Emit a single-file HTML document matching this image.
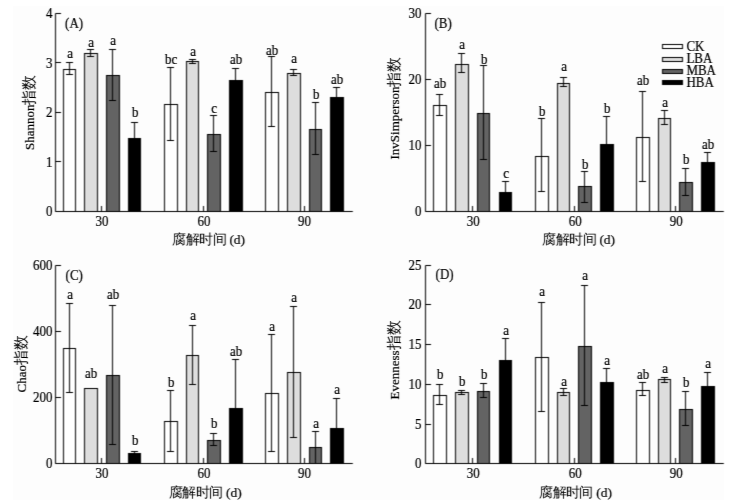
<!DOCTYPE html><html><head><meta charset="utf-8"><style>html,body{margin:0;padding:0;background:#fff;width:745px;height:503px;overflow:hidden}svg{display:block}text{font-family:"Liberation Serif", serif;fill:#000;stroke:#000;stroke-width:0.2px}</style></head><body>
<svg width="745" height="503" viewBox="0 0 745 503">
<defs><filter id="bs" x="0" y="0" width="1" height="1" color-interpolation-filters="sRGB"><feConvolveMatrix order="3" kernelMatrix="0.02 0.06 0.02 0.16 0.48 0.16 0.02 0.06 0.02" divisor="1" preserveAlpha="false" edgeMode="duplicate"/></filter><filter id="bt" x="0" y="0" width="1" height="1" color-interpolation-filters="sRGB"><feConvolveMatrix order="3" kernelMatrix="0 0 0 0.12 0.76 0.12 0 0 0" divisor="1" preserveAlpha="false" edgeMode="duplicate"/></filter></defs>
<rect width="745" height="503" fill="#fff"/><rect x="13" y="6" width="711" height="494" fill="#fdfdfd"/>
<g filter="url(#bs)"><rect width="745" height="503" fill="none"/><g stroke="#000" stroke-width="1" fill="none"><rect x="63.5" y="69.5" width="12" height="142" fill="#ffffff"/><path d="M69.5 62.5V74.5M66 62.5H73M66 74.5H73"/><rect x="84.5" y="53.5" width="13" height="158" fill="#dddddd"/><path d="M90.5 49.5V56.5M87 49.5H94M87 56.5H94"/><rect x="106.5" y="75.5" width="13" height="136" fill="#636363"/><path d="M112.5 49.5V100.5M109 49.5H116M109 100.5H116"/><rect x="128.5" y="138.5" width="12" height="73" fill="#000000"/><path d="M134.5 122.5V154.5M131 122.5H138M131 154.5H138"/><rect x="164.5" y="104.5" width="13" height="107" fill="#ffffff"/><path d="M170.5 67.5V140.5M167 67.5H174M167 140.5H174"/><rect x="186.5" y="61.5" width="12" height="150" fill="#dddddd"/><path d="M192.5 59.5V63.5M189 59.5H196M189 63.5H196"/><rect x="207.5" y="134.5" width="13" height="77" fill="#636363"/><path d="M213.5 115.5V151.5M210 115.5H217M210 151.5H217"/><rect x="229.5" y="80.5" width="13" height="131" fill="#000000"/><path d="M235.5 68.5V93.5M232 68.5H239M232 93.5H239"/><rect x="265.5" y="92.5" width="13" height="119" fill="#ffffff"/><path d="M271.5 56.5V126.5M268 56.5H275M268 126.5H275"/><rect x="287.5" y="73.5" width="13" height="138" fill="#dddddd"/><path d="M293.5 69.5V75.5M290 69.5H297M290 75.5H297"/><rect x="309.5" y="129.5" width="12" height="82" fill="#636363"/><path d="M315.5 102.5V154.5M312 102.5H319M312 154.5H319"/><rect x="330.5" y="97.5" width="13" height="114" fill="#000000"/><path d="M336.5 87.5V107.5M333 87.5H340M333 107.5H340"/><path d="M55.5 13.5V211.5H352.8"/><path d="M55.5 211.5H61"/><path d="M55.5 161.5H61"/><path d="M55.5 112.5H61"/><path d="M55.5 62.5H61"/><path d="M55.5 13.5H61"/><path d="M101.5 211.5V206"/><path d="M203.5 211.5V206"/><path d="M304.5 211.5V206"/><rect x="433.5" y="105.5" width="13" height="106" fill="#ffffff"/><path d="M439.5 94.5V115.5M436 94.5H443M436 115.5H443"/><rect x="455.5" y="64.5" width="13" height="147" fill="#dddddd"/><path d="M461.5 53.5V72.5M458 53.5H465M458 72.5H465"/><rect x="477.5" y="113.5" width="12" height="98" fill="#636363"/><path d="M483.5 65.5V159.5M480 65.5H487M480 159.5H487"/><rect x="499.5" y="192.5" width="12" height="19" fill="#000000"/><path d="M505.5 181.5V203.5M502 181.5H509M502 203.5H509"/><rect x="535.5" y="156.5" width="13" height="55" fill="#ffffff"/><path d="M541.5 118.5V191.5M538 118.5H545M538 191.5H545"/><rect x="557.5" y="83.5" width="12" height="128" fill="#dddddd"/><path d="M563.5 77.5V86.5M560 77.5H567M560 86.5H567"/><rect x="578.5" y="186.5" width="13" height="25" fill="#636363"/><path d="M584.5 171.5V202.5M581 171.5H588M581 202.5H588"/><rect x="600.5" y="144.5" width="13" height="67" fill="#000000"/><path d="M606.5 116.5V172.5M603 116.5H610M603 172.5H610"/><rect x="636.5" y="137.5" width="13" height="74" fill="#ffffff"/><path d="M642.5 91.5V181.5M639 91.5H646M639 181.5H646"/><rect x="658.5" y="118.5" width="12" height="93" fill="#dddddd"/><path d="M664.5 110.5V124.5M661 110.5H668M661 124.5H668"/><rect x="679.5" y="182.5" width="13" height="29" fill="#636363"/><path d="M685.5 168.5V195.5M682 168.5H689M682 195.5H689"/><rect x="701.5" y="162.5" width="13" height="49" fill="#000000"/><path d="M707.5 152.5V171.5M704 152.5H711M704 171.5H711"/><path d="M425.5 13.5V211.5H723.8"/><path d="M425.5 211.5H431"/><path d="M425.5 145.5H431"/><path d="M425.5 79.5H431"/><path d="M425.5 13.5H431"/><path d="M472.5 211.5V206"/><path d="M574.5 211.5V206"/><path d="M675.5 211.5V206"/><rect x="63.5" y="348.5" width="12" height="115" fill="#ffffff"/><path d="M69.5 303.5V392.5M66 303.5H73M66 392.5H73"/><rect x="84.5" y="388.5" width="13" height="75" fill="#dddddd"/><rect x="106.5" y="375.5" width="13" height="88" fill="#636363"/><path d="M112.5 305.5V444.5M109 305.5H116M109 444.5H116"/><rect x="128.5" y="453.5" width="12" height="10" fill="#000000"/><path d="M134.5 451.5V455.5M131 451.5H138M131 455.5H138"/><rect x="164.5" y="421.5" width="13" height="42" fill="#ffffff"/><path d="M170.5 390.5V451.5M167 390.5H174M167 451.5H174"/><rect x="186.5" y="355.5" width="12" height="108" fill="#dddddd"/><path d="M192.5 325.5V384.5M189 325.5H196M189 384.5H196"/><rect x="207.5" y="440.5" width="13" height="23" fill="#636363"/><path d="M213.5 433.5V445.5M210 433.5H217M210 445.5H217"/><rect x="229.5" y="408.5" width="13" height="55" fill="#000000"/><path d="M235.5 359.5V456.5M232 359.5H239M232 456.5H239"/><rect x="265.5" y="393.5" width="13" height="70" fill="#ffffff"/><path d="M271.5 334.5V451.5M268 334.5H275M268 451.5H275"/><rect x="287.5" y="372.5" width="13" height="91" fill="#dddddd"/><path d="M293.5 306.5V437.5M290 306.5H297M290 437.5H297"/><rect x="309.5" y="447.5" width="12" height="16" fill="#636363"/><path d="M315.5 431.5V463.5M312 431.5H319M312 463.5H319"/><rect x="330.5" y="428.5" width="13" height="35" fill="#000000"/><path d="M336.5 398.5V459.5M333 398.5H340M333 459.5H340"/><path d="M55.5 265.5V463.5H352.8"/><path d="M55.5 463.5H61"/><path d="M55.5 397.5H61"/><path d="M55.5 331.5H61"/><path d="M55.5 265.5H61"/><path d="M101.5 463.5V458"/><path d="M203.5 463.5V458"/><path d="M304.5 463.5V458"/><rect x="433.5" y="395.5" width="13" height="68" fill="#ffffff"/><path d="M439.5 384.5V404.5M436 384.5H443M436 404.5H443"/><rect x="455.5" y="392.5" width="13" height="71" fill="#dddddd"/><path d="M461.5 390.5V394.5M458 390.5H465M458 394.5H465"/><rect x="477.5" y="391.5" width="12" height="72" fill="#636363"/><path d="M483.5 383.5V397.5M480 383.5H487M480 397.5H487"/><rect x="499.5" y="360.5" width="12" height="103" fill="#000000"/><path d="M505.5 338.5V380.5M502 338.5H509M502 380.5H509"/><rect x="535.5" y="357.5" width="13" height="106" fill="#ffffff"/><path d="M541.5 302.5V411.5M538 302.5H545M538 411.5H545"/><rect x="557.5" y="392.5" width="12" height="71" fill="#dddddd"/><path d="M563.5 388.5V395.5M560 388.5H567M560 395.5H567"/><rect x="578.5" y="346.5" width="13" height="117" fill="#636363"/><path d="M584.5 285.5V405.5M581 285.5H588M581 405.5H588"/><rect x="600.5" y="382.5" width="13" height="81" fill="#000000"/><path d="M606.5 368.5V395.5M603 368.5H610M603 395.5H610"/><rect x="636.5" y="390.5" width="13" height="73" fill="#ffffff"/><path d="M642.5 382.5V395.5M639 382.5H646M639 395.5H646"/><rect x="658.5" y="379.5" width="12" height="84" fill="#dddddd"/><path d="M664.5 377.5V382.5M661 377.5H668M661 382.5H668"/><rect x="679.5" y="409.5" width="13" height="54" fill="#636363"/><path d="M685.5 391.5V425.5M682 391.5H689M682 425.5H689"/><rect x="701.5" y="386.5" width="13" height="77" fill="#000000"/><path d="M707.5 372.5V400.5M704 372.5H711M704 400.5H711"/><path d="M425.5 265.5V463.5H723.8"/><path d="M425.5 463.5H431"/><path d="M425.5 424.5H431"/><path d="M425.5 384.5H431"/><path d="M425.5 344.5H431"/><path d="M425.5 304.5H431"/><path d="M425.5 265.5H431"/><path d="M472.5 463.5V458"/><path d="M574.5 463.5V458"/><path d="M675.5 463.5V458"/><rect x="662.5" y="44.5" width="20" height="4" fill="#ffffff"/><rect x="662.5" y="57.5" width="20" height="4" fill="#dddddd"/><rect x="662.5" y="69.5" width="20" height="4" fill="#636363"/><rect x="662.5" y="80.5" width="20" height="4" fill="#000000"/></g></g>
<g filter="url(#bt)"><rect width="745" height="503" fill="none"/><text transform="translate(70.2 58.1) scale(1 1.05)" font-size="13" text-anchor="middle">a</text><text transform="translate(91.2 47.2) scale(1 1.05)" font-size="13" text-anchor="middle">a</text><text transform="translate(113.2 45.2) scale(1 1.05)" font-size="13" text-anchor="middle">a</text><text transform="translate(135.2 116.8) scale(1 1.05)" font-size="13" text-anchor="middle">b</text><text transform="translate(171.2 64) scale(1 1.05)" font-size="13" text-anchor="middle">bc</text><text transform="translate(193.2 56.1) scale(1 1.05)" font-size="13" text-anchor="middle">a</text><text transform="translate(214.2 112.7) scale(1 1.05)" font-size="13" text-anchor="middle">c</text><text transform="translate(236.2 64) scale(1 1.05)" font-size="13" text-anchor="middle">ab</text><text transform="translate(272.2 54.6) scale(1 1.05)" font-size="13" text-anchor="middle">ab</text><text transform="translate(294.2 63.1) scale(1 1.05)" font-size="13" text-anchor="middle">a</text><text transform="translate(316.2 98.9) scale(1 1.05)" font-size="13" text-anchor="middle">b</text><text transform="translate(337.2 84) scale(1 1.05)" font-size="13" text-anchor="middle">ab</text><text transform="translate(52.5 216.2) scale(1 1.05)" font-size="13" text-anchor="end">0</text><text transform="translate(52.5 166.8) scale(1 1.05)" font-size="13" text-anchor="end">1</text><text transform="translate(52.5 117.3) scale(1 1.05)" font-size="13" text-anchor="end">2</text><text transform="translate(52.5 67.9) scale(1 1.05)" font-size="13" text-anchor="end">3</text><text transform="translate(52.5 18.4) scale(1 1.05)" font-size="13" text-anchor="end">4</text><text transform="translate(101.9 225.9) scale(1 1.05)" font-size="13" text-anchor="middle">30</text><text transform="translate(203.9 225.9) scale(1 1.05)" font-size="13" text-anchor="middle">60</text><text transform="translate(304.4 225.9) scale(1 1.05)" font-size="13" text-anchor="middle">90</text><text x="172.2" y="244.2" font-size="14"><tspan letter-spacing="-0.55" stroke-width="0">腐解时间</tspan><tspan font-size="13.5"> (d)</tspan></text><text transform="translate(34.4 150) rotate(-90)" font-size="13">Shannon<tspan font-size="14.5" stroke-width="0">指数</tspan></text><text transform="translate(65.1 27.6) scale(1 1.05)" font-size="13">(A)</text><text transform="translate(440.2 87.9) scale(1 1.05)" font-size="13" text-anchor="middle">ab</text><text transform="translate(462.2 49) scale(1 1.05)" font-size="13" text-anchor="middle">a</text><text transform="translate(484.2 63.6) scale(1 1.05)" font-size="13" text-anchor="middle">b</text><text transform="translate(506.2 177.8) scale(1 1.05)" font-size="13" text-anchor="middle">c</text><text transform="translate(542.2 116.2) scale(1 1.05)" font-size="13" text-anchor="middle">b</text><text transform="translate(564.2 70.9) scale(1 1.05)" font-size="13" text-anchor="middle">a</text><text transform="translate(585.2 168.9) scale(1 1.05)" font-size="13" text-anchor="middle">b</text><text transform="translate(607.2 113.2) scale(1 1.05)" font-size="13" text-anchor="middle">b</text><text transform="translate(643.2 85) scale(1 1.05)" font-size="13" text-anchor="middle">ab</text><text transform="translate(665.2 107) scale(1 1.05)" font-size="13" text-anchor="middle">a</text><text transform="translate(686.2 164.1) scale(1 1.05)" font-size="13" text-anchor="middle">b</text><text transform="translate(708.2 149.2) scale(1 1.05)" font-size="13" text-anchor="middle">ab</text><text transform="translate(421.5 216.1) scale(1 1.05)" font-size="13" text-anchor="end">0</text><text transform="translate(421.5 150.2) scale(1 1.05)" font-size="13" text-anchor="end">10</text><text transform="translate(421.5 84.1) scale(1 1.05)" font-size="13" text-anchor="end">20</text><text transform="translate(421.5 18.3) scale(1 1.05)" font-size="13" text-anchor="end">30</text><text transform="translate(473.3 225.6) scale(1 1.05)" font-size="13" text-anchor="middle">30</text><text transform="translate(575.3 225.6) scale(1 1.05)" font-size="13" text-anchor="middle">60</text><text transform="translate(676.3 225.6) scale(1 1.05)" font-size="13" text-anchor="middle">90</text><text x="542.2" y="244.2" font-size="14"><tspan letter-spacing="-0.55" stroke-width="0">腐解时间</tspan><tspan font-size="13.5"> (d)</tspan></text><text transform="translate(398.5 159.5) rotate(-90)" font-size="13">InvSimperson<tspan font-size="14.5" stroke-width="0">指数</tspan></text><text transform="translate(434.5 27.6) scale(1 1.05)" font-size="13">(B)</text><text transform="translate(70.2 299) scale(1 1.05)" font-size="13" text-anchor="middle">a</text><text transform="translate(91.2 378) scale(1 1.05)" font-size="13" text-anchor="middle">ab</text><text transform="translate(113.2 299.2) scale(1 1.05)" font-size="13" text-anchor="middle">ab</text><text transform="translate(135.2 444.9) scale(1 1.05)" font-size="13" text-anchor="middle">b</text><text transform="translate(171.2 386.6) scale(1 1.05)" font-size="13" text-anchor="middle">b</text><text transform="translate(193.2 320.4) scale(1 1.05)" font-size="13" text-anchor="middle">a</text><text transform="translate(214.2 427.9) scale(1 1.05)" font-size="13" text-anchor="middle">b</text><text transform="translate(236.2 355.8) scale(1 1.05)" font-size="13" text-anchor="middle">ab</text><text transform="translate(272.2 331) scale(1 1.05)" font-size="13" text-anchor="middle">a</text><text transform="translate(294.2 302.2) scale(1 1.05)" font-size="13" text-anchor="middle">a</text><text transform="translate(316.2 428) scale(1 1.05)" font-size="13" text-anchor="middle">a</text><text transform="translate(337.2 394.2) scale(1 1.05)" font-size="13" text-anchor="middle">a</text><text transform="translate(52.5 468.2) scale(1 1.05)" font-size="13" text-anchor="end">0</text><text transform="translate(52.5 402.2) scale(1 1.05)" font-size="13" text-anchor="end">200</text><text transform="translate(52.5 336.2) scale(1 1.05)" font-size="13" text-anchor="end">400</text><text transform="translate(52.5 270.2) scale(1 1.05)" font-size="13" text-anchor="end">600</text><text transform="translate(101.9 477.6) scale(1 1.05)" font-size="13" text-anchor="middle">30</text><text transform="translate(203.9 477.6) scale(1 1.05)" font-size="13" text-anchor="middle">60</text><text transform="translate(304.4 477.6) scale(1 1.05)" font-size="13" text-anchor="middle">90</text><text x="168.8" y="496.7" font-size="14"><tspan letter-spacing="-0.55" stroke-width="0">腐解时间</tspan><tspan font-size="13.5"> (d)</tspan></text><text transform="translate(26 392.5) rotate(-90)" font-size="13">Chao<tspan font-size="14.5" stroke-width="0">指数</tspan></text><text transform="translate(65.6 279.5) scale(1 1.05)" font-size="13">(C)</text><text transform="translate(440.2 378.8) scale(1 1.05)" font-size="13" text-anchor="middle">b</text><text transform="translate(462.2 385.8) scale(1 1.05)" font-size="13" text-anchor="middle">b</text><text transform="translate(484.2 378.8) scale(1 1.05)" font-size="13" text-anchor="middle">b</text><text transform="translate(506.2 334.5) scale(1 1.05)" font-size="13" text-anchor="middle">a</text><text transform="translate(542.2 296.1) scale(1 1.05)" font-size="13" text-anchor="middle">a</text><text transform="translate(564.2 386.1) scale(1 1.05)" font-size="13" text-anchor="middle">a</text><text transform="translate(585.2 280.3) scale(1 1.05)" font-size="13" text-anchor="middle">a</text><text transform="translate(607.2 365.3) scale(1 1.05)" font-size="13" text-anchor="middle">a</text><text transform="translate(643.2 378.7) scale(1 1.05)" font-size="13" text-anchor="middle">ab</text><text transform="translate(665.2 373.1) scale(1 1.05)" font-size="13" text-anchor="middle">a</text><text transform="translate(686.2 387) scale(1 1.05)" font-size="13" text-anchor="middle">b</text><text transform="translate(708.2 368.1) scale(1 1.05)" font-size="13" text-anchor="middle">a</text><text transform="translate(421.5 468.2) scale(1 1.05)" font-size="13" text-anchor="end">0</text><text transform="translate(421.5 429.2) scale(1 1.05)" font-size="13" text-anchor="end">5</text><text transform="translate(421.5 389.2) scale(1 1.05)" font-size="13" text-anchor="end">10</text><text transform="translate(421.5 349.2) scale(1 1.05)" font-size="13" text-anchor="end">15</text><text transform="translate(421.5 309.2) scale(1 1.05)" font-size="13" text-anchor="end">20</text><text transform="translate(421.5 270.2) scale(1 1.05)" font-size="13" text-anchor="end">25</text><text transform="translate(473.3 477.8) scale(1 1.05)" font-size="13" text-anchor="middle">30</text><text transform="translate(575.3 477.8) scale(1 1.05)" font-size="13" text-anchor="middle">60</text><text transform="translate(676.3 477.8) scale(1 1.05)" font-size="13" text-anchor="middle">90</text><text x="539.1" y="496.7" font-size="14"><tspan letter-spacing="-0.55" stroke-width="0">腐解时间</tspan><tspan font-size="13.5"> (d)</tspan></text><text transform="translate(399 399.5) rotate(-90)" font-size="13">Evenness<tspan font-size="14.5" stroke-width="0">指数</tspan></text><text transform="translate(435.6 278.9) scale(1 1.05)" font-size="13">(D)</text><text transform="translate(686.4 50.7) scale(1 1.05)" font-size="13">CK</text><text transform="translate(686.4 62.7) scale(1 1.05)" font-size="13">LBA</text><text transform="translate(686.4 74.6) scale(1 1.05)" font-size="13">MBA</text><text transform="translate(686.4 86.9) scale(1 1.05)" font-size="13">HBA</text></g>
</svg></body></html>
